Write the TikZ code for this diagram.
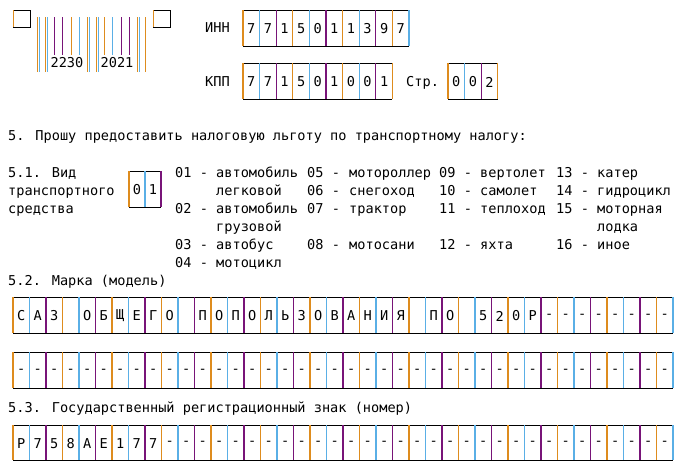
\documentclass[tikz,border=0pt]{standalone}
\usepackage{fontspec}
\setmainfont{DejaVu Sans Mono}
\definecolor{cO}{RGB}{222,140,30}
\definecolor{cB}{RGB}{90,175,230}
\definecolor{cP}{RGB}{120,20,120}
\tikzset{
 txt/.style={anchor=base west,inner sep=0pt,font=\fontsize{13.6}{16}\selectfont},
 celltxt/.style={anchor=center,inner sep=0pt,font=\fontsize{13.6}{16}\selectfont},
 frame/.style={black,line width=1pt},
 sep/.style={line width=1.1pt},
}
% #1 name, #2 x, #3 ytop, #4 w, #5 h, #6 n, #7 list
\newcommand\mycells[7]{%
 \draw[frame] (#2,#3) -- ++(#6*#4,0) (#2,#3+#5) -- ++(#6*#4,0);
 \foreach \k in {0,...,#6}{%
  \pgfmathtruncatemacro\mm{mod(\k,3)}%
  \ifcase\mm \def\cc{cO}\or \def\cc{cB}\or \def\cc{cP}\fi
  \draw[sep,draw=\cc] (#2+\k*#4,#3) -- (#2+\k*#4,#3+#5);
 }%
 \foreach \ch [count=\i from 0] in {#7}{%
  \node[celltxt] (#1\i) at (#2+\i*#4+#4/2,#3+#5/2+1) {\ch};
 }%
}
\begin{document}
\begin{tikzpicture}[x=1pt,y=-1pt]
\useasboundingbox (0,0) rectangle (679,466);
% corner squares
\draw[black,line width=0.8pt] (13,10) rectangle (30,27);
\draw[cO,line width=1pt] (13,10) -- (13,27);
\draw[black,line width=0.8pt] (153,10) rectangle (170,27);
\draw[cO,line width=1pt] (153,10) -- (153,27);
% barcode
\foreach \x/\c/\b in {37/cO/72,39/cB/72,45/cO/72,47/cB/72,54/cP/55,62/cP/55,71/cO/55,79/cB/55,87/cO/72,89/cB/72,96/cO/72,98/cB/72,104/cO/55,112/cB/55,121/cP/55,129/cP/55,137/cO/72,139/cB/72,145/cO/72}
 \draw[\c,line width=0.9pt] (\x,17) -- (\x,\b);
\node[celltxt] (bc1) at (67,63) {2230};
\node[celltxt] (bc2) at (117,63) {2021};
% INN / KPP
\node[txt] (inn) at (205,32) {ИНН};
\mycells{i}{243}{10}{16.6}{36}{10}{7,7,1,5,0,1,1,3,9,7}
\node[txt] (kpp) at (205,86) {КПП};
\mycells{k}{243}{63}{16.6}{36}{9}{7,7,1,5,0,1,0,0,1}
\node[txt] (str) at (406,86) {Стр.};
\mycells{s}{448}{63}{16.6}{36}{3}{0,0,2}
% section 5
\node[txt] (t5) at (8,140) {5. Прошу предоставить налоговую льготу по транспортному налогу:};
\node[txt] (a1) at (8,177) {5.1. Вид};
\node[txt] (a2) at (8,195) {транспортного};
\node[txt] (a3) at (8,213) {средства};
\mycells{v}{129}{171}{16}{36}{2}{0,1}
\foreach \y/\a/\b/\c/\d/\e/\f/\g/\h in {
 177/01 -/автомобиль/05 -/мотороллер/09 -/вертолет/13 -/катер,
 195//легковой/06 -/снегоход/10 -/самолет/14 -/гидроцикл,
 213/02 -/автомобиль/07 -/трактор/11 -/теплоход/15 -/моторная,
 231//грузовой//////лодка,
 249/03 -/автобус/08 -/мотосани/12 -/яхта/16 -/иное,
 267/04 -/мотоцикл//////}{
 \node[txt] (la\y) at (175,\y) {\a};
 \node[txt] (lb\y) at (216,\y) {\b};
 \node[txt] (lc\y) at (307,\y) {\c};
 \node[txt] (ld\y) at (349,\y) {\d};
 \node[txt] (le\y) at (439,\y) {\e};
 \node[txt] (lf\y) at (480,\y) {\f};
 \node[txt] (lg\y) at (556,\y) {\g};
 \node[txt] (lh\y) at (597,\y) {\h};
}
\node[txt] (t52) at (8,285) {5.2. Марка (модель)};
\mycells{m}{13}{297}{16.5}{36}{40}{С,А,З,{},О,Б,Щ,Е,Г,О,{},П,О,П,О,Л,Ь,З,О,В,А,Н,И,Я,{},П,О,{},5,2,0,Р,-,-,-,-,-,-,-,-}
\mycells{n}{13}{352}{16.5}{36}{40}{-,-,-,-,-,-,-,-,-,-,-,-,-,-,-,-,-,-,-,-,-,-,-,-,-,-,-,-,-,-,-,-,-,-,-,-,-,-,-,-}
\node[txt] (t53) at (8,412) {5.3. Государственный регистрационный знак (номер)};
\mycells{r}{13}{425}{16.5}{35}{40}{Р,7,5,8,А,Е,1,7,7,-,-,-,-,-,-,-,-,-,-,-,-,-,-,-,-,-,-,-,-,-,-,-,-,-,-,-,-,-,-,-}
\end{tikzpicture}
\end{document}
